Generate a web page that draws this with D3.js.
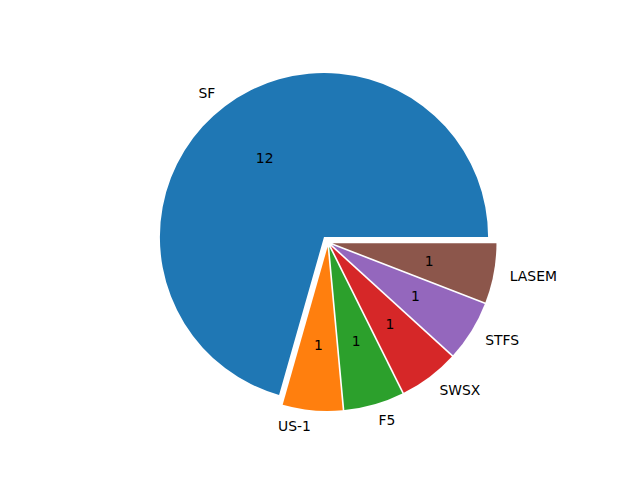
<!DOCTYPE html>
<html>
<head>
<meta charset="utf-8">
<script src="https://cdn.jsdelivr.net/npm/d3@7"></script>
<style>
  body { margin: 0; background: #fff; }
  text { font-family: "DejaVu Sans", sans-serif; font-size: 13.9px; fill: #000; }
</style>
</head>
<body>
<svg width="640" height="480"></svg>
<script>
const labels = ["SF", "US-1", "F5", "SWSX", "STFS", "LASEM"];
const values = [12, 1, 1, 1, 1, 1];
const explode = [0.045, 0.03, 0.03, 0.03, 0.03, 0.03];
const colors = ["#1f77b4", "#ff7f0e", "#2ca02c", "#d62728", "#9467bd", "#8c564b"];

const svg = d3.select("svg");
const width = +svg.attr("width");
const height = +svg.attr("height");

// axes box like matplotlib's default subplot
const cx = width * (0.125 + 0.9) / 2;
const cy = height * (1 - (0.11 + 0.88) / 2);
const unit = height * 0.77 / 2.5;
const radius = 1.11 * unit;

// counter-clockwise from 3 o'clock
const pie = d3.pie()
    .sort(null)
    .startAngle(Math.PI / 2)
    .endAngle(Math.PI / 2 - 2 * Math.PI);

const arcs = pie(values);
const arc = d3.arc().innerRadius(0).outerRadius(radius);

const g = svg.append("g").attr("transform", `translate(${cx},${cy})`);

const slice = g.selectAll(".slice")
    .data(arcs)
    .enter()
    .append("g")
    .attr("class", "slice")
    .attr("transform", (d, i) => {
        const a = (d.startAngle + d.endAngle) / 2;
        const e = explode[i] * unit;
        return `translate(${e * Math.sin(a)},${-e * Math.cos(a)})`;
    });

slice.append("path")
    .attr("d", arc)
    .attr("fill", (d, i) => colors[i]);

slice.append("text")
    .attr("x", d => 0.6 * radius * Math.sin((d.startAngle + d.endAngle) / 2))
    .attr("y", d => -0.6 * radius * Math.cos((d.startAngle + d.endAngle) / 2))
    .attr("dy", "0.35em")
    .attr("text-anchor", "middle")
    .text(d => d.data);

slice.append("text")
    .attr("x", d => 1.1 * radius * Math.sin((d.startAngle + d.endAngle) / 2))
    .attr("y", d => -1.1 * radius * Math.cos((d.startAngle + d.endAngle) / 2))
    .attr("dy", "0.35em")
    .attr("text-anchor", d => Math.sin((d.startAngle + d.endAngle) / 2) > 0 ? "start" : "end")
    .text((d, i) => labels[i]);
</script>
</body>
</html>
